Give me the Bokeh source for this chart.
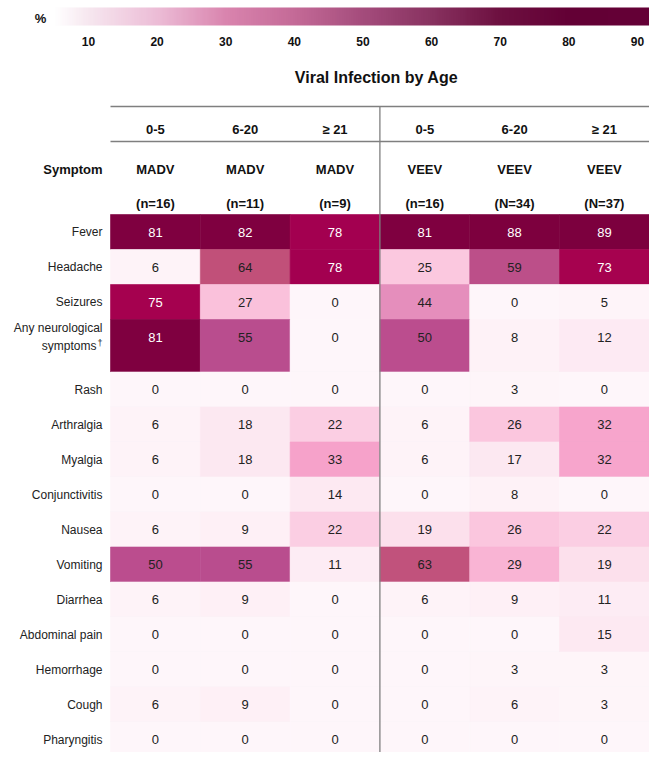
import numpy as np
from bokeh.plotting import figure
from bokeh.models import Range1d, ColumnDataSource, LinearColorMapper, ColorBar, FixedTicker
from bokeh.core.properties import value
from bokeh.embed import file_html
from bokeh.resources import INLINE

# ---------------- data ----------------
symptoms = ["Fever", "Headache", "Seizures", "Any neurological symptoms", "Rash",
            "Arthralgia", "Myalgia", "Conjunctivitis", "Nausea", "Vomiting",
            "Diarrhea", "Abdominal pain", "Hemorrhage", "Cough", "Pharyngitis"]
age_groups = ["0-5", "6-20", "\u2265 21", "0-5", "6-20", "\u2265 21"]
viruses = ["MADV", "MADV", "MADV", "VEEV", "VEEV", "VEEV"]
sample_sizes = ["(n=16)", "(n=11)", "(n=9)", "(n=16)", "(N=34)", "(N=37)"]

fever = [81, 82, 78, 81, 88, 89]
headache = [6, 64, 78, 25, 59, 73]
seizures = [75, 27, 0, 44, 0, 5]
neuro = [81, 55, 0, 50, 8, 12]
rash = [0, 0, 0, 0, 3, 0]
arthralgia = [6, 18, 22, 6, 26, 32]
myalgia = [6, 18, 33, 6, 17, 32]
conjunctivitis = [0, 0, 14, 0, 8, 0]
nausea = [6, 9, 22, 19, 26, 22]
vomiting = [50, 55, 11, 63, 29, 19]
diarrhea = [6, 9, 0, 6, 9, 11]
abdominal_pain = [0, 0, 0, 0, 0, 15]
hemorrhage = [0, 0, 0, 0, 3, 3]
cough = [6, 9, 0, 0, 6, 3]
pharyngitis = [0, 0, 0, 0, 0, 0]

colorbar_ticks = [10, 20, 30, 40, 50, 60, 70, 80, 90]

table = [fever, headache, seizures, neuro, rash, arthralgia, myalgia, conjunctivitis,
         nausea, vomiting, diarrhea, abdominal_pain, hemorrhage, cough, pharyngitis]

# ---------------- palettes ----------------
def make_palette(stops, n=256):
    vals = np.array([s[0] for s in stops], dtype=float)
    cols = np.array([[int(s[1][i:i + 2], 16) for i in (1, 3, 5)] for s in stops], dtype=float)
    xs = np.linspace(vals[0], vals[-1], n)
    out = []
    for x in xs:
        rgb = [np.interp(x, vals, cols[:, k]) for k in range(3)]
        out.append("#%02x%02x%02x" % tuple(int(round(c)) for c in rgb))
    return out

cell_stops = [(0, "#fef6fa"), (7, "#fef3f8"), (12, "#fdeaf3"), (18, "#fce8f1"),
              (21, "#fbd0e4"), (26, "#fbc6de"), (30, "#f8aed1"), (33, "#f6a1ca"),
              (44, "#e68fbd"), (50, "#bb4d8e"), (55, "#b94d8e"), (59, "#bc4f89"),
              (64, "#c2527a"), (70, "#b01f5f"), (73, "#a6024f"), (78, "#a30050"),
              (81, "#7f0040"), (90, "#7c003e")]
bar_stops = [(4.9, "#ffffff"), (10, "#f6e6ef"), (20, "#ecbcd6"), (30, "#d984ae"),
             (40, "#c46a97"), (50, "#a44c7c"), (60, "#883260"), (70, "#6d1040"),
             (80, "#630035"), (91.75, "#640036")]

cell_mapper = LinearColorMapper(palette=make_palette(cell_stops), low=0, high=90)
bar_mapper = LinearColorMapper(palette=make_palette(bar_stops), low=4.9, high=91.75)

# ---------------- geometry (layout units) ----------------
row_h = [1.5 if s.startswith("Any") else 1.0 for s in symptoms]
row_top = list(np.concatenate([[0.0], np.cumsum(row_h)[:-1]]))

W, H = 649, 752
x0_px, col_px = 110.0, 89.8      # px of table left, px per column
y0_px, row_px = 214.0, 35.0      # px of first data row top, px per row
x_rng = Range1d(-x0_px / col_px, (W - x0_px) / col_px)
y_rng = Range1d((H - y0_px) / row_px, -y0_px / row_px)

def ypx(py):  # pixel (from top) -> layout y
    return (py - y0_px) / row_px

def xpx(px):
    return (px - x0_px) / col_px

p = figure(width=W, height=H, x_range=x_rng, y_range=y_rng,
           output_backend="svg", toolbar_location=None, min_border=0,
           x_axis_location=None, y_axis_location=None)
p.grid.visible = False
p.outline_line_color = None
p.background_fill_color = "white"

# ---------------- cells ----------------
L, R, T, B, V, TX, TY, TC = [], [], [], [], [], [], [], []
for r, vals in enumerate(table):
    for c, v in enumerate(vals):
        L.append(c); R.append(c + 1)
        T.append(row_top[r]); B.append(row_top[r] + row_h[r])
        V.append(v)
        TX.append(c + 0.5); TY.append(row_top[r] + 0.5)
        TC.append("#ffffff" if v >= 70 else "#222222")
src = ColumnDataSource(dict(left=L, right=R, top=T, bottom=B, val=V, tx=TX, ty=TY,
                            tc=TC, label=[str(v) for v in V]))
p.quad(left="left", right="right", top="top", bottom="bottom", source=src,
       fill_color={"field": "val", "transform": cell_mapper},
       line_color={"field": "val", "transform": cell_mapper}, line_width=0.6)
p.text(x="tx", y="ty", text="label", source=src, text_align="center",
       text_baseline="middle", text_color="tc", text_font=value("Liberation Sans"),
       text_font_size="13px")

# row labels
lab_font = value("Liberation Sans")
lab_x = xpx(102)
lx, ly, lt = [], [], []
for r, s in enumerate(symptoms):
    if s.startswith("Any"):
        lx += [lab_x, xpx(96)]
        ly += [row_top[r] + 0.25, row_top[r] + 0.77]
        lt += ["Any neurological", "symptoms"]
    else:
        lx.append(lab_x); ly.append(row_top[r] + 0.5); lt.append(s)
p.text(x=lx, y=ly, text=lt, text_align="right", text_baseline="middle",
       text_color="#222222", text_font=lab_font, text_font_size="12px")
nr = symptoms.index("Any neurological symptoms")
p.text(x=[lab_x], y=[row_top[nr] + 0.66], text=["\u2020"], text_align="right",
       text_baseline="middle", text_color="#222222",
       text_font=value("Liberation Sans"), text_font_size="9px")

# header rules
p.segment(x0=[0, 0], x1=[6, 6], y0=[ypx(106), ypx(141)], y1=[ypx(106), ypx(141)],
          line_color="#7f7f7f", line_width=1.3)
p.segment(x0=[3], x1=[3], y0=[ypx(106)], y1=[y_rng.start], line_color="#7f7f7f",
          line_width=1.3)

cols = [c + 0.5 for c in range(6)]
hdr_font = value("Liberation Sans")
p.text(x=cols, y=[ypx(129)] * 6, text=age_groups, text_align="center",
       text_baseline="middle", text_font=hdr_font, text_font_style="bold",
       text_font_size="13px", text_color="#111111")
p.text(x=cols, y=[ypx(169)] * 6, text=viruses, text_align="center",
       text_baseline="middle", text_font=hdr_font, text_font_style="bold",
       text_font_size="13px", text_color="#111111")
p.text(x=cols, y=[ypx(203)] * 6, text=sample_sizes, text_align="center",
       text_baseline="middle", text_font=hdr_font, text_font_style="bold",
       text_font_size="13px", text_color="#111111")
p.text(x=[lab_x], y=[ypx(169)], text=["Symptom"], text_align="right",
       text_baseline="middle", text_font=hdr_font, text_font_style="bold",
       text_font_size="13px", text_color="#111111")

# title
p.text(x=[xpx(376)], y=[ypx(77)], text=["Viral Infection by Age"],
       text_align="center", text_baseline="middle", text_font=hdr_font,
       text_font_style="bold", text_font_size="16px", text_color="#111111")

# percent sign
p.text(x=[xpx(40)], y=[ypx(18)], text=["%"], text_align="center",
       text_baseline="middle", text_font=hdr_font, text_font_style="bold",
       text_font_size="13px", text_color="#111111")

# colour bar
cb = ColorBar(color_mapper=bar_mapper, orientation="horizontal", width=596, height=18,
              location=(53, H - 48), ticker=FixedTicker(ticks=colorbar_ticks),
              major_label_text_font="Liberation Sans", major_label_text_font_size="12px",
              major_label_text_font_style="bold", major_label_text_color="#111111",
              major_tick_line_color=None, minor_tick_line_color=None, bar_line_color=None,
              border_line_color=None, background_fill_color=None, padding=0, margin=0,
              label_standoff=11)
p.add_layout(cb, "center")

open("out.html", "w").write(file_html(p, INLINE))
